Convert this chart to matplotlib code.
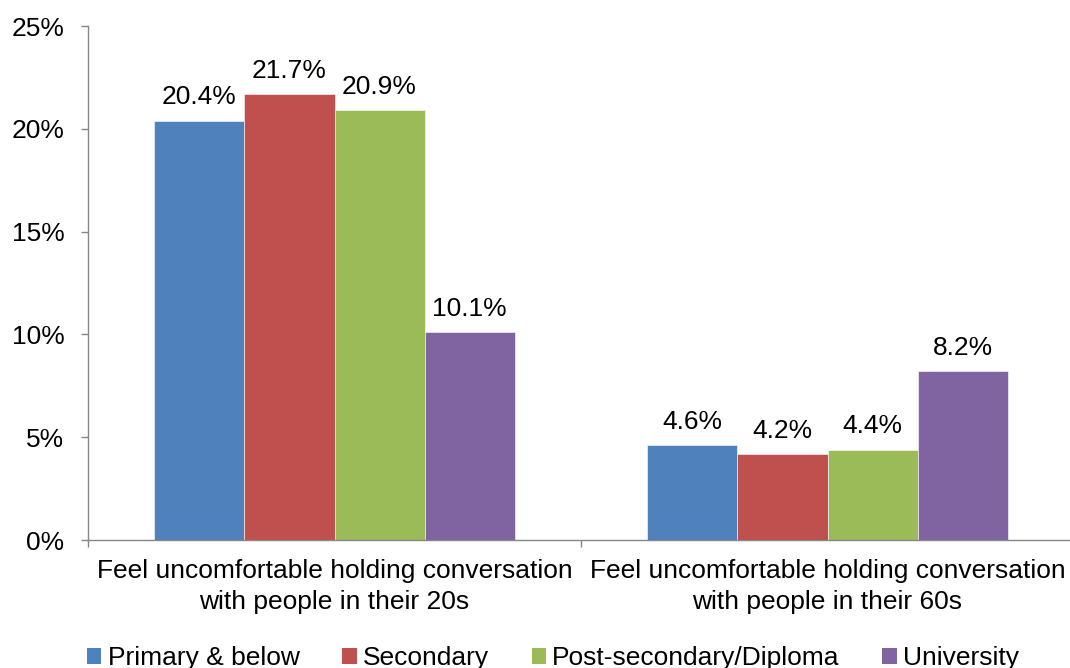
import matplotlib
matplotlib.use("Agg")
import matplotlib.pyplot as plt
from matplotlib.patches import Patch
import numpy as np

plt.rcParams['font.family'] = ['Liberation Sans', 'DejaVu Sans']

categories = ["Feel uncomfortable holding conversation\nwith people in their 20s",
              "Feel uncomfortable holding conversation\nwith people in their 60s"]
series_names = ["Primary & below", "Secondary", "Post-secondary/Diploma", "University"]
primary = [20.4, 4.6]
secondary = [21.7, 4.2]
post_secondary = [20.9, 4.4]
university = [10.1, 8.2]
series_values = [primary, secondary, post_secondary, university]
colors = ["#4F81BD", "#C0504D", "#9BBB59", "#8064A2"]
y_ticks = [0, 5, 10, 15, 20, 25]

FS = 19
W, H = 1070, 668
fig = plt.figure(figsize=(W / 100, H / 100), dpi=100)
ax = fig.add_axes([88 / W, (H - 540) / H, 986 / W, 514 / H])

x = np.arange(len(categories))
bar_w = 0.1826
offsets = (np.arange(len(series_names)) - 1.5) * bar_w
for vals, name, col, off in zip(series_values, series_names, colors, offsets):
    bars = ax.bar(x + off, vals, width=bar_w, color=col, label=name,
                  edgecolor="white", linewidth=0.4)
    for b, v in zip(bars, vals):
        ax.annotate(f"{v:.1f}%", (b.get_x() + b.get_width() / 2, v),
                    xytext=(0, 8), textcoords="offset points",
                    ha="center", va="bottom", fontsize=FS, color="black")

ax.set_xlim(-0.5, 1.5)
ax.set_ylim(0, 25)
ax.set_yticks(y_ticks)
ax.set_yticklabels([f"{t}%" for t in y_ticks], fontsize=FS)

ax.set_xticks([-0.5, 0.5, 1.5])
ax.set_xticklabels([])
ax.set_xticks(x, minor=True)
ax.set_xticklabels(categories, minor=True, fontsize=FS, linespacing=1.35)
ax.tick_params(axis="x", which="minor", length=0, pad=14)
ax.tick_params(axis="x", which="major", length=5, width=1, color="#868686", direction="out")
ax.tick_params(axis="y", length=5, width=1, color="#868686", direction="out", pad=12)

for s in ["top", "right"]:
    ax.spines[s].set_visible(False)
for s in ["left", "bottom"]:
    ax.spines[s].set_color("#868686")
    ax.spines[s].set_linewidth(1)

handles = [Patch(facecolor=c, edgecolor="none", label=n) for c, n in zip(colors, series_names)]
fig.legend(handles=handles, loc="center", bbox_to_anchor=(553 / W, 1 - 658 / H),
           ncol=4, frameon=False, fontsize=FS, handlelength=0.55, handleheight=0.55,
           handletextpad=0.23, columnspacing=1.62, borderpad=0)

fig.savefig("out.png", dpi=100)
